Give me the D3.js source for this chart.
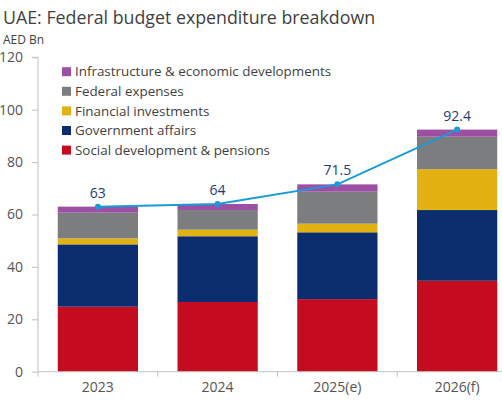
<!DOCTYPE html>
<html>
<head>
<meta charset="utf-8">
<script src="https://cdn.jsdelivr.net/npm/d3@7"></script>
<style>
  body { margin: 0; background: #fff; }
  svg { display: block; font-family: "Open Sans", sans-serif; }
</style>
</head>
<body>
<script>
var years = ["2023", "2024", "2025(e)", "2026(f)"];
var social = [24.8, 26.6, 27.7, 34.7];
var government = [23.8, 25.1, 25.5, 27.0];
var financial = [2.3, 2.5, 3.3, 15.6];
var federal = [9.8, 7.5, 12.2, 12.4];
var infrastructure = [2.3, 2.3, 2.8, 2.7];
var totals = [63, 64, 71.5, 92.4];
var totalLabels = ["63", "64", "71.5", "92.4"];
var yTicks = [0, 20, 40, 60, 80, 100, 120];

var seriesNames = ["Social development & pensions", "Government affairs",
  "Financial investments", "Federal expenses", "Infrastructure & economic developments"];
var seriesValues = [social, government, financial, federal, infrastructure];
var colors = ["#c40b20", "#0b2d6e", "#e2b112", "#7b7d7f", "#9c4fa3"];

var WIDTH = 502, HEIGHT = 400;
var LEFT = 38, RIGHT = 517, TOP = 57.3, BOTTOM = 371.7;

var translate = function (x, y) { return "translate(" + x + "," + y + ")"; };

var table = years.map(function (y, i) {
  var row = { year: y };
  seriesNames.forEach(function (n, k) { row[n] = seriesValues[k][i]; });
  return row;
});
var stack = d3.stack().keys(seriesNames)(table);

var xScale = d3.scaleBand().domain(years).range([LEFT, RIGHT])
  .paddingInner(0.33).paddingOuter(0.165);
var yScale = d3.scaleLinear().domain([0, 120]).range([BOTTOM, TOP]);

var svg = d3.select("body").append("svg")
  .attr("width", WIDTH).attr("height", HEIGHT);

svg.append("text").attr("x", 3).attr("y", 24)
  .attr("font-size", 17.8).attr("fill", "#3f3f3f")
  .text("UAE: Federal budget expenditure breakdown");
svg.append("text").attr("x", 3).attr("y", 43.5)
  .attr("font-size", 12).attr("fill", "#3f3f3f")
  .text("AED Bn");

// bars
svg.append("g").selectAll("g").data(stack).enter().append("g")
  .attr("fill", function (d, i) { return colors[i]; })
  .selectAll("rect").data(function (d) { return d; }).enter().append("rect")
  .attr("x", function (d) { return xScale(d.data.year); })
  .attr("width", xScale.bandwidth())
  .attr("y", function (d) { return yScale(d[1]); })
  .attr("height", function (d) { return yScale(d[0]) - yScale(d[1]); });

// y axis
var yAxis = svg.append("g").attr("transform", translate(LEFT, 0))
  .call(d3.axisLeft(yScale).tickValues(yTicks).tickSize(6).tickPadding(9));
yAxis.select(".domain").attr("stroke", "#c0c0c0").attr("d", "M-6," + TOP + "H0V" + BOTTOM);
yAxis.selectAll(".tick line").attr("stroke", "#c0c0c0");
yAxis.selectAll(".tick text").attr("fill", "#555").attr("font-size", 14)
  .attr("font-family", "Open Sans, sans-serif");

// x axis
var step = xScale.step();
var xAxis = svg.append("g").attr("transform", translate(0, BOTTOM))
  .call(d3.axisBottom(xScale).tickSize(0).tickPadding(10));
xAxis.select(".domain").attr("stroke", "#c0c0c0").attr("d", "M" + LEFT + ",0H" + RIGHT);
xAxis.selectAll(".tick text").attr("fill", "#555").attr("font-size", 14)
  .attr("font-family", "Open Sans, sans-serif");
xAxis.append("g").selectAll("line").data(years).enter().append("line")
  .attr("x1", function (d) { return xScale(d) - xScale.paddingOuter() * step; })
  .attr("x2", function (d) { return xScale(d) - xScale.paddingOuter() * step; })
  .attr("y1", 0).attr("y2", 5).attr("stroke", "#c0c0c0");

// total line
var cx = function (i) { return xScale(years[i]) + xScale.bandwidth() / 2; };
var line = d3.line()
  .x(function (d, i) { return cx(i); })
  .y(function (d) { return yScale(d); });
svg.append("path").attr("d", line(totals))
  .attr("fill", "none").attr("stroke", "#1a9ad6").attr("stroke-width", 2);
svg.append("g").selectAll("circle").data(totals).enter().append("circle")
  .attr("cx", function (d, i) { return cx(i); })
  .attr("cy", function (d) { return yScale(d); })
  .attr("r", 3).attr("fill", "#1a9ad6");
svg.append("g").selectAll("text").data(totals).enter().append("text")
  .attr("x", function (d, i) { return cx(i); })
  .attr("y", function (d) { return yScale(d) - 9; })
  .attr("text-anchor", "middle").attr("font-size", 14).attr("fill", "#1f3c7a")
  .text(function (d, i) { return totalLabels[i]; });

// legend
var legendOrder = [4, 3, 2, 1, 0];
var legend = svg.append("g").selectAll("g").data(legendOrder).enter().append("g")
  .attr("transform", function (d, j) { return translate(62, 71.7 + j * 19.6); });
legend.append("rect").attr("x", 0).attr("y", -4.5).attr("width", 9).attr("height", 9)
  .attr("fill", function (k) { return colors[k]; });
legend.append("text").attr("x", 13).attr("y", 0).attr("dy", "0.35em")
  .attr("font-size", 13.4).attr("fill", "#3f3f3f")
  .text(function (k) { return seriesNames[k]; });
</script>
</body>
</html>
